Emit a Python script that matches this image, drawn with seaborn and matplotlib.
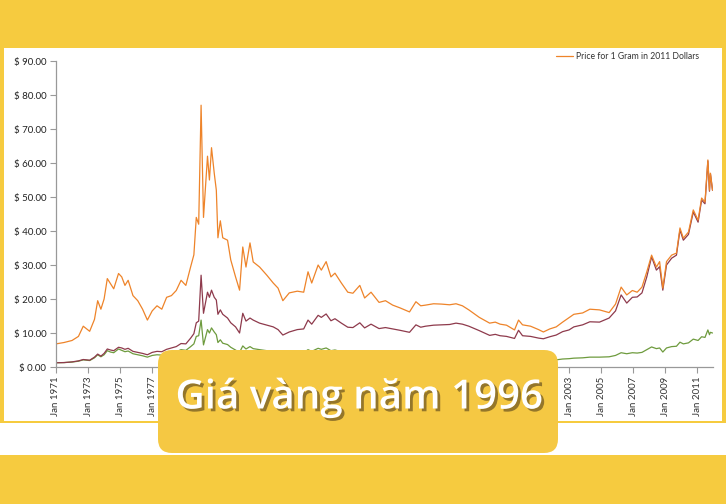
import numpy as np
import pandas as pd
import matplotlib
matplotlib.use('Agg')
import matplotlib.pyplot as plt
import matplotlib.patheffects as pe
from matplotlib.patches import Rectangle, FancyBboxPatch
from matplotlib.ticker import FuncFormatter
import seaborn as sns

# fractional years, with the three series at each point
years = [1971.0, 1971.5, 1972.0, 1972.4, 1972.7, 1973.1, 1973.4, 1973.6, 1973.8, 1974.0,
         1974.2, 1974.4, 1974.6, 1974.9, 1975.1, 1975.3, 1975.5, 1975.8, 1976.1, 1976.4,
         1976.7, 1977.0, 1977.3, 1977.6, 1977.9, 1978.2, 1978.5, 1978.8, 1979.1, 1979.4,
         1979.6, 1979.75, 1979.9, 1980.05, 1980.2, 1980.45, 1980.57, 1980.7, 1980.87, 1981.0,
         1981.1, 1981.25, 1981.4, 1981.7, 1981.9, 1982.2, 1982.45, 1982.65, 1982.85, 1983.1,
         1983.3, 1983.7, 1984.15, 1984.55, 1984.85, 1985.15, 1985.55, 1986.05, 1986.45, 1986.72,
         1986.95, 1987.35, 1987.55, 1987.85, 1988.15, 1988.4, 1988.8, 1989.2, 1989.52, 1989.95,
         1990.25, 1990.65, 1991.15, 1991.55, 1992.0, 1992.45, 1993.05, 1993.45, 1993.75, 1994.05,
         1994.55, 1995.05, 1995.55, 1995.95, 1996.35, 1996.75, 1997.05, 1997.4, 1998.05, 1998.4,
         1998.7, 1999.1, 1999.6, 1999.85, 2000.1, 2000.6, 2001.1, 2001.4, 2001.8, 2002.2,
         2002.6, 2003.0, 2003.3, 2003.85, 2004.3, 2004.9, 2005.5, 2005.9, 2006.25, 2006.6,
         2006.95, 2007.25, 2007.55, 2007.85, 2008.15, 2008.45, 2008.65, 2008.85, 2009.08, 2009.4,
         2009.7, 2009.92, 2010.13, 2010.45, 2010.75, 2011.05, 2011.27, 2011.48, 2011.66, 2011.76,
         2011.82, 2011.95]

price_2011 = [6.8, 7.2, 7.8, 9.0, 12.0, 10.5, 14.0, 19.5, 17.0, 20.0,
              26.0, 24.5, 23.0, 27.5, 26.5, 24.0, 25.5, 21.0, 19.5, 17.0,
              13.8, 16.5, 18.0, 17.0, 20.5, 21.0, 22.5, 25.5, 24.0, 29.5,
              33.0, 44.0, 42.0, 77.0, 44.0, 62.0, 55.0, 64.5, 57.0, 52.0,
              38.0, 43.0, 38.0, 37.3, 31.5, 26.5, 22.6, 35.3, 29.4, 36.5,
              30.9, 29.4, 27.0, 24.7, 23.2, 19.5, 21.8, 22.3, 22.0, 28.0,
              24.7, 30.0, 28.5, 31.0, 26.5, 27.6, 24.7, 22.0, 21.7, 24.0,
              20.3, 22.0, 19.0, 19.5, 18.2, 17.4, 16.2, 19.2, 18.0, 18.2,
              18.6, 18.5, 18.3, 18.6, 18.0, 16.8, 15.8, 14.6, 12.9, 13.2,
              12.6, 12.3, 10.9, 13.8, 12.4, 12.0, 11.0, 10.3, 11.2, 11.8,
              13.2, 14.5, 15.5, 15.9, 17.0, 16.8, 16.0, 18.5, 23.5, 21.2,
              22.5, 22.0, 23.5, 28.0, 32.9, 29.4, 31.0, 23.2, 31.0, 32.9,
              33.5, 40.9, 37.9, 39.7, 46.2, 43.2, 49.7, 48.5, 60.9, 52.0,
              57.0, 52.0]

price_nominal = [1.25, 1.3, 1.5, 1.8, 2.2, 2.0, 2.9, 3.8, 3.2, 4.0,
                 5.3, 5.0, 4.8, 5.8, 5.6, 5.2, 5.5, 4.6, 4.3, 4.0,
                 3.6, 4.3, 4.6, 4.5, 5.2, 5.6, 6.0, 6.9, 6.8, 8.5,
                 9.8, 13.0, 13.5, 27.0, 15.8, 22.0, 20.5, 22.6, 20.5, 19.7,
                 15.5, 16.8, 15.5, 14.4, 13.0, 11.8, 10.0, 15.8, 13.5, 14.4,
                 13.8, 12.9, 12.3, 11.8, 11.0, 9.4, 10.3, 11.0, 11.2, 13.8,
                 12.6, 15.2, 14.6, 15.6, 13.6, 14.2, 12.9, 11.7, 11.6, 13.0,
                 11.5, 12.6, 11.3, 11.6, 11.2, 10.8, 10.2, 12.4, 11.7, 12.0,
                 12.3, 12.4, 12.5, 12.9, 12.6, 12.0, 11.4, 10.7, 9.3, 9.6,
                 9.2, 9.0, 8.4, 10.8, 9.2, 9.0, 8.5, 8.3, 8.9, 9.4,
                 10.4, 10.9, 11.8, 12.4, 13.3, 13.2, 14.4, 16.5, 21.2, 18.8,
                 20.5, 20.6, 21.8, 26.5, 32.4, 28.5, 29.5, 22.6, 30.0, 32.0,
                 32.9, 40.3, 37.3, 39.0, 45.6, 42.6, 49.1, 48.0, 60.6, 51.7,
                 56.8, 52.0]

price_1971 = [1.25, 1.3, 1.45, 1.7, 2.1, 1.9, 2.7, 3.6, 3.0, 3.6,
              4.8, 4.4, 4.2, 5.3, 4.9, 4.5, 4.7, 3.9, 3.6, 3.3,
              2.9, 3.4, 3.6, 3.5, 4.0, 4.2, 4.5, 5.1, 4.9, 6.0,
              6.8, 9.0, 9.2, 13.8, 6.5, 11.0, 10.0, 11.5, 10.3, 9.5,
              7.2, 8.0, 7.0, 6.6, 5.8, 5.0, 4.3, 6.2, 5.3, 6.0,
              5.4, 5.1, 4.8, 4.5, 4.2, 3.5, 3.9, 4.1, 4.2, 5.1,
              4.6, 5.5, 5.2, 5.6, 4.8, 5.0, 4.5, 3.9, 3.8, 4.2,
              3.6, 3.9, 3.4, 3.5, 3.3, 3.1, 2.9, 3.4, 3.2, 3.3,
              3.4, 3.3, 3.3, 3.4, 3.3, 3.1, 2.9, 2.7, 2.3, 2.4,
              2.3, 2.2, 2.05, 2.6, 2.2, 2.1, 2.0, 1.9, 2.0, 2.1,
              2.35, 2.45, 2.6, 2.7, 2.9, 2.9, 3.0, 3.4, 4.2, 3.9,
              4.2, 4.1, 4.3, 5.1, 5.9, 5.4, 5.6, 4.4, 5.6, 6.0,
              6.1, 7.3, 6.8, 7.1, 8.2, 7.8, 8.9, 8.7, 10.9, 9.5,
              10.2, 10.0]

tick_years = list(range(1971, 2012, 2))
tick_labels = ['Jan %d' % y for y in tick_years]
y_ticks = list(range(0, 91, 10))
legend_label = 'Price for 1 Gram in 2011 Dollars'
banner_text = 'Giá vàng năm 1996'

YELLOW = '#F6CB3F'

sns.set_style('white')
plt.rcParams['font.family'] = ['Lato', 'DejaVu Sans']

df = pd.DataFrame({'year': years, 'p2011': price_2011,
                   'pnom': price_nominal, 'p1971': price_1971})

fig = plt.figure(figsize=(7.26, 5.04), dpi=100)
fig.patch.set_facecolor('white')
ax = fig.add_axes([56/726, 1-367/504, 657/726, 306/504])

sns.lineplot(data=df, x='year', y='p1971', ax=ax, color='#6E9B3E', linewidth=0.9)
sns.lineplot(data=df, x='year', y='pnom', ax=ax, color='#8E3A4C', linewidth=0.9)
sns.lineplot(data=df, x='year', y='p2011', ax=ax, color='#EE842A', linewidth=0.9,
             label=legend_label)

ax.set_xlim(1971, 2011.98)
ax.set_ylim(0, 90)
ax.set_xticks(tick_years)
ax.set_xticklabels(tick_labels, rotation=90, fontsize=7, color='#333333')
# labels 1979..2001 sit behind the banner box, as in the picture
for yr, lab in zip(tick_years, ax.get_xticklabels()):
    if 1978 < yr < 2002:
        lab.set_visible(False)
ax.set_yticks(y_ticks)
ax.yaxis.set_major_formatter(FuncFormatter(lambda v, p: '$ %.2f' % v))
ax.tick_params(axis='y', labelsize=7, labelcolor='#222222', length=4, color='#999999',
               direction='out', left=True, pad=3)
ax.tick_params(axis='x', length=4, color='#999999', direction='out', bottom=True, pad=3)
ax.set_xlabel('')
ax.set_ylabel('')
for s in ['top', 'right']:
    ax.spines[s].set_visible(False)
for s in ['left', 'bottom']:
    ax.spines[s].set_color('#999999')
    ax.spines[s].set_linewidth(0.9)
ax.legend(loc='upper right', bbox_to_anchor=(0.99, 1.055), frameon=False, fontsize=6.2,
          handlelength=2.0, handletextpad=0.3, labelcolor='#333333')

# overlay in pixel units for the frame and the banner
ov = fig.add_axes([0, 0, 1, 1], zorder=5)
ov.set_xlim(0, 726)
ov.set_ylim(504, 0)
ov.axis('off')
ov.patch.set_alpha(0)
ov.add_patch(Rectangle((0, 0), 726, 48, color=YELLOW, lw=0))
ov.add_patch(Rectangle((0, 455), 726, 49, color=YELLOW, lw=0))
ov.add_patch(Rectangle((0, 48), 3.5, 375, color=YELLOW, lw=0))
ov.add_patch(Rectangle((722, 48), 4, 375, color=YELLOW, lw=0))
ov.add_patch(Rectangle((0, 420.5), 726, 2.5, color=YELLOW, lw=0))
ov.add_patch(FancyBboxPatch((158, 350), 400, 103,
                            boxstyle='round,pad=0,rounding_size=14',
                            facecolor='#F5C843', edgecolor='none'))
ov.text(359, 398, banner_text, ha='center', va='center', fontsize=29, fontweight='semibold',
        color='white', family=['Open Sans', 'DejaVu Sans'],
        path_effects=[pe.SimplePatchShadow(offset=(2, -2), shadow_rgbFace='#6b5420', alpha=0.7),
                      pe.Normal()])

fig.savefig('out.png', dpi=100)
